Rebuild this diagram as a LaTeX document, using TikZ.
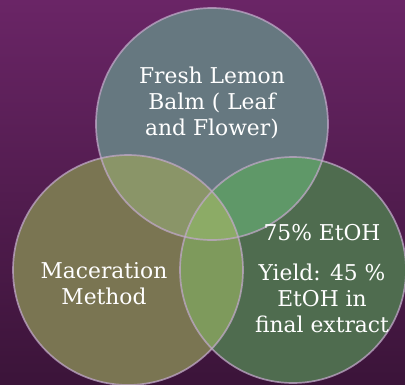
\documentclass[tikz,border=0pt]{standalone}
\usepackage{fontspec}
\setmainfont{DejaVu Serif}
\usepackage{xcolor}
\usetikzlibrary{positioning}

\definecolor{bgtop}{HTML}{6A2566}
\definecolor{bgbot}{HTML}{3B1439}
\definecolor{balm}{HTML}{667880}
\definecolor{macer}{HTML}{7A7552}
\definecolor{etoh}{HTML}{4F6C4F}
\definecolor{balmmacer}{HTML}{8A9568}
\definecolor{balmetoh}{HTML}{5F9868}
\definecolor{maceretoh}{HTML}{7E9A5C}
\definecolor{allthree}{HTML}{8CAB66}
\definecolor{rim}{HTML}{C0A8C8}

\begin{document}
\begin{tikzpicture}[x=0.025cm,y=0.025cm]
	\tikzstyle{every node} = [text = white, align = center, font = \fontsize{15.5}{18.5}\selectfont]
	\tikzstyle{ring} = [draw = rim, line width = 1.2pt, draw opacity = 0.75]
% background
\shade[top color = bgtop, bottom color = bgbot] (0, 0) rectangle (405, 384);
\useasboundingbox (0, 0) rectangle (405, 384);

\coordinate (top) at (212, 260);
\coordinate (left) at (128, 114);
\coordinate (right) at (293, 114);

	\fill[balm] (top) circle (116);
	\fill[macer] (left) circle (115);
	\fill[etoh] (right) circle (113);

% overlaps
\begin{scope}
	\clip (top) circle (116);
	\fill[balmmacer] (left) circle (115);
	\fill[balmetoh] (right) circle (113);
\end{scope}
\begin{scope}
	\clip (left) circle (115);
	\fill[maceretoh] (right) circle (113);
	\clip (top) circle (116);
	\fill[allthree] (right) circle (113);
\end{scope}

	\path[ring] (top) circle (116);
	\path[ring] (left) circle (115);
	\path[ring] (right) circle (113);

\node (fresh) at (212, 281) {Fresh Lemon\\Balm ( Leaf\\and Flower)};
\node (maceration) at (104, 100) {Maceration\\Method};
\node (ethanol) at (322, 151) {75\% EtOH};
\node (yield) at (322, 86) {Yield: 45 \%\\EtOH in\\final extract};
	\end{tikzpicture}
\end{document}
